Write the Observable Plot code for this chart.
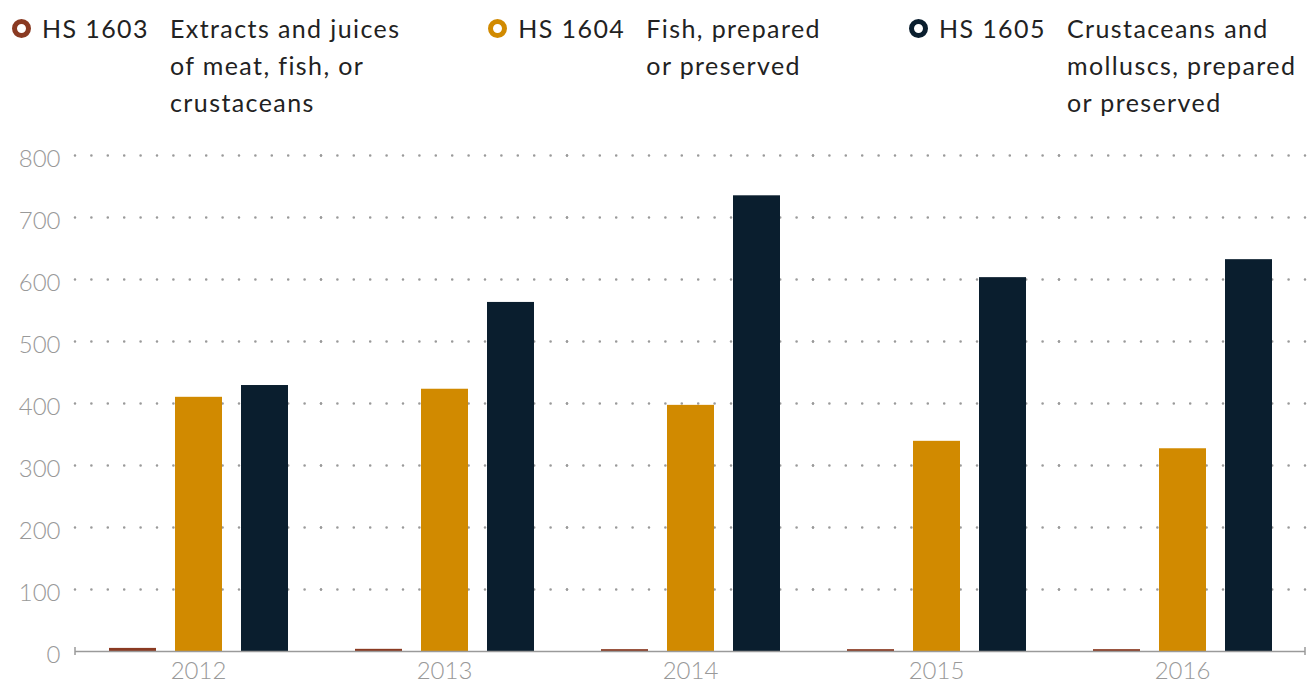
<!DOCTYPE html>
<html>
<head>
<meta charset="utf-8">
<script src="https://cdn.jsdelivr.net/npm/d3@7"></script>
<script src="https://cdn.jsdelivr.net/npm/@observablehq/plot@0.6"></script>
<style>
  html, body { margin: 0; padding: 0; background: #fff; }
  body { width: 1311px; height: 686px; overflow: hidden; font-family: Lato, "Open Sans", sans-serif; }
  #legend { display: flex; gap: 88px; height: 120px; padding: 10px 0 0 12px; color: #222; font-size: 25px; line-height: 37px; letter-spacing: 1.4px; }
  .item { display: flex; align-items: flex-start; }
  .marker { box-sizing: border-box; width: 19px; height: 19px; border-radius: 50%; border: 5.5px solid; margin-top: 9px; margin-right: 11px; flex: none; }
  .code { width: 128px; white-space: nowrap; flex: none; }
  .desc { white-space: nowrap; }
  #chart svg { display: block; }
</style>
</head>
<body>
<div id="legend"></div>
<div id="chart"></div>
<script>
const years = ["2012", "2013", "2014", "2015", "2016"];
const seriesCodes = ["HS 1603", "HS 1604", "HS 1605"];
const seriesDescriptions = [
  ["Extracts and juices", "of meat, fish, or", "crustaceans"],
  ["Fish, prepared", "or preserved"],
  ["Crustaceans and", "molluscs, prepared", "or preserved"]
];
const seriesColors = ["#8a3a22", "#d18a00", "#0a1e2e"];
const hs1603 = [5, 3.5, 3, 3, 3];
const hs1604 = [410, 423, 397, 339, 327];
const hs1605 = [429, 563, 735, 603, 632];
const yTicks = [0, 100, 200, 300, 400, 500, 600, 700, 800];

const seriesValues = [hs1603, hs1604, hs1605];
const rows = [];
years.forEach((yr, i) => seriesCodes.forEach((s, j) => rows.push({year: yr, series: s, value: seriesValues[j][i]})));

// legend
const legend = d3.select("#legend");
seriesCodes.forEach((s, j) => {
  const it = legend.append("div").attr("class", "item");
  it.append("div").attr("class", "marker").style("border-color", seriesColors[j]);
  it.append("div").attr("class", "code").text(s);
  it.append("div").attr("class", "desc").html(seriesDescriptions[j].join("<br>"));
});

const gridColor = "#9a9a9a";
const plot = Plot.plot({
  width: 1311,
  height: 556,
  marginTop: 25,
  marginBottom: 35,
  marginLeft: 75,
  marginRight: 6,
  style: {fontFamily: "Lato, 'Open Sans', sans-serif", background: "#fff"},
  fx: {domain: years, padding: 0, label: null},
  x: {domain: seriesCodes, paddingInner: 0.29, paddingOuter: 0.5, axis: null},
  y: {domain: [0, 800], label: null},
  color: {domain: seriesCodes, range: seriesColors},
  marks: [
    Plot.ruleY(yTicks.filter(d => d > 0), {stroke: gridColor, strokeWidth: 2.6, strokeDasharray: "0,16.4", strokeLinecap: "round", strokeOpacity: 1}),
    Plot.barY(rows, {fx: "year", x: "series", y: "value", fill: "series"}),
    Plot.ruleY([0], {stroke: gridColor, strokeWidth: 1.5}),
    Plot.axisY(yTicks, {tickSize: 0, tickPadding: 15, fontSize: 24, fill: "#999", fontWeight: 300, dy: 4, label: null}),
    Plot.axisFx({anchor: "bottom", tickSize: 0, tickPadding: 10, fontSize: 24, fill: "#999", fontWeight: 300, label: null})
  ]
});
document.getElementById("chart").appendChild(plot);

// end ticks on the baseline, positioned via the plot's own scales
const fxs = plot.scale("fx");
const ys = plot.scale("y");
const y0 = ys.apply(0);
const svg = d3.select(plot);
[fxs.range[0], fxs.range[1]].forEach(x => {
  svg.append("line").attr("x1", x).attr("x2", x).attr("y1", y0 - 4).attr("y2", y0 + 4)
    .attr("stroke", gridColor).attr("stroke-width", 1.5);
});
</script>
</body>
</html>
